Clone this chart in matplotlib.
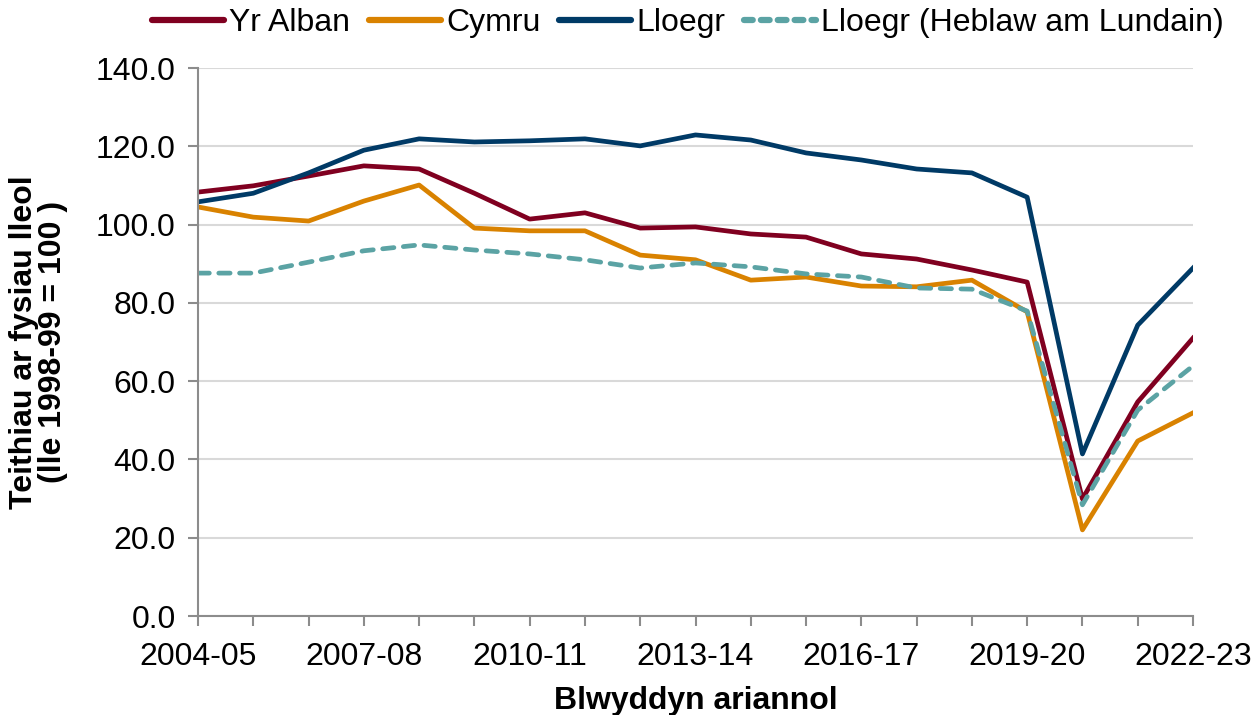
import matplotlib
matplotlib.use("Agg")
import matplotlib.pyplot as plt
from matplotlib.ticker import FormatStrFormatter, FixedLocator

plt.rcParams['font.family'] = ['Liberation Sans', 'DejaVu Sans']

# blynyddoedd ariannol
years = ['2004-05', '2005-06', '2006-07', '2007-08', '2008-09', '2009-10',
         '2010-11', '2011-12', '2012-13', '2013-14', '2014-15', '2015-16',
         '2016-17', '2017-18', '2018-19', '2019-20', '2020-21', '2021-22',
         '2022-23']

yr_alban = [108.3, 109.9, 112.4, 115.0, 114.2, 108.0, 101.4, 103.0, 99.1,
            99.4, 97.6, 96.8, 92.5, 91.2, 88.4, 85.3, 29.9, 54.7, 71.0]
cymru = [104.5, 101.9, 100.9, 106.0, 110.1, 99.1, 98.4, 98.4, 92.2,
         91.0, 85.8, 86.6, 84.3, 84.1, 85.8, 77.7, 22.0, 44.7, 51.9]
lloegr = [105.8, 108.0, 113.2, 119.0, 121.9, 121.1, 121.4, 121.9, 120.1,
          122.9, 121.6, 118.3, 116.5, 114.2, 113.2, 107.0, 41.4, 74.3, 88.9]
lloegr_heb_lundain = [87.6, 87.6, 90.4, 93.3, 94.8, 93.5, 92.5, 91.0, 88.9,
                      90.2, 89.2, 87.4, 86.6, 83.8, 83.5, 77.9, 28.4, 52.6, 63.9]

x = list(range(len(years)))

fig = plt.figure(figsize=(12.56, 7.15), dpi=100)
ax = fig.add_axes([198/1256, 1 - 616/715, (1193-198)/1256, (616-68)/715])

lw = 3.4
ax.plot(x, yr_alban, color='#800020', lw=lw, label='Yr Alban')
ax.plot(x, cymru, color='#D98200', lw=lw, label='Cymru')
ax.plot(x, lloegr, color='#003A66', lw=lw, label='Lloegr')
ax.plot(x, lloegr_heb_lundain, color='#5BA3A4', lw=lw, ls=(0, (2.4, 2.0)),
        dash_capstyle='round', label='Lloegr (Heblaw am Lundain)')

ax.set_xlim(0, len(years) - 1)
ax.set_ylim(0, 140)
ax.yaxis.set_major_locator(FixedLocator(range(0, 141, 20)))
ax.yaxis.set_major_formatter(FormatStrFormatter('%.1f'))
ax.set_xticks(x)
ax.set_xticklabels([y if i % 3 == 0 else '' for i, y in enumerate(years)])

ax.grid(axis='y', color='#D9D9D9', lw=1.5)
ax.set_axisbelow(True)
for s in ['top', 'right']:
    ax.spines[s].set_visible(False)
for s in ['left', 'bottom']:
    ax.spines[s].set_color('#8C8C8C')
    ax.spines[s].set_linewidth(1.5)
ax.tick_params(axis='both', direction='out', length=7, width=1.5,
               color='#8C8C8C', labelsize=23)
ax.tick_params(axis='y', pad=9)
ax.tick_params(axis='x', pad=12)

ax.set_xlabel('Blwyddyn ariannol', fontsize=23, fontweight='bold', labelpad=10)
ax.set_ylabel('Teithiau ar fysiau lleol\n(lle 1998-99 = 100 )', fontsize=23,
              fontweight='bold', linespacing=0.95)
ax.yaxis.set_label_coords(-0.131, 0.5)

leg = ax.legend(loc='center', bbox_to_anchor=(0.4925, 1.0 + 45/548), ncol=4,
                frameon=False, fontsize=23, handlelength=2.25,
                handletextpad=0.15, columnspacing=0.6)
for h in leg.get_lines():
    h.set_linewidth(4.5)
    h.set_solid_capstyle('round')
# handle llinell doredig: dashes byrrach fel yn y gwreiddiol
leg.get_lines()[3].set_linestyle((0, (1.4, 1.3)))
leg.get_lines()[3].set_dash_capstyle('round')

fig.savefig('out.png', dpi=100)
